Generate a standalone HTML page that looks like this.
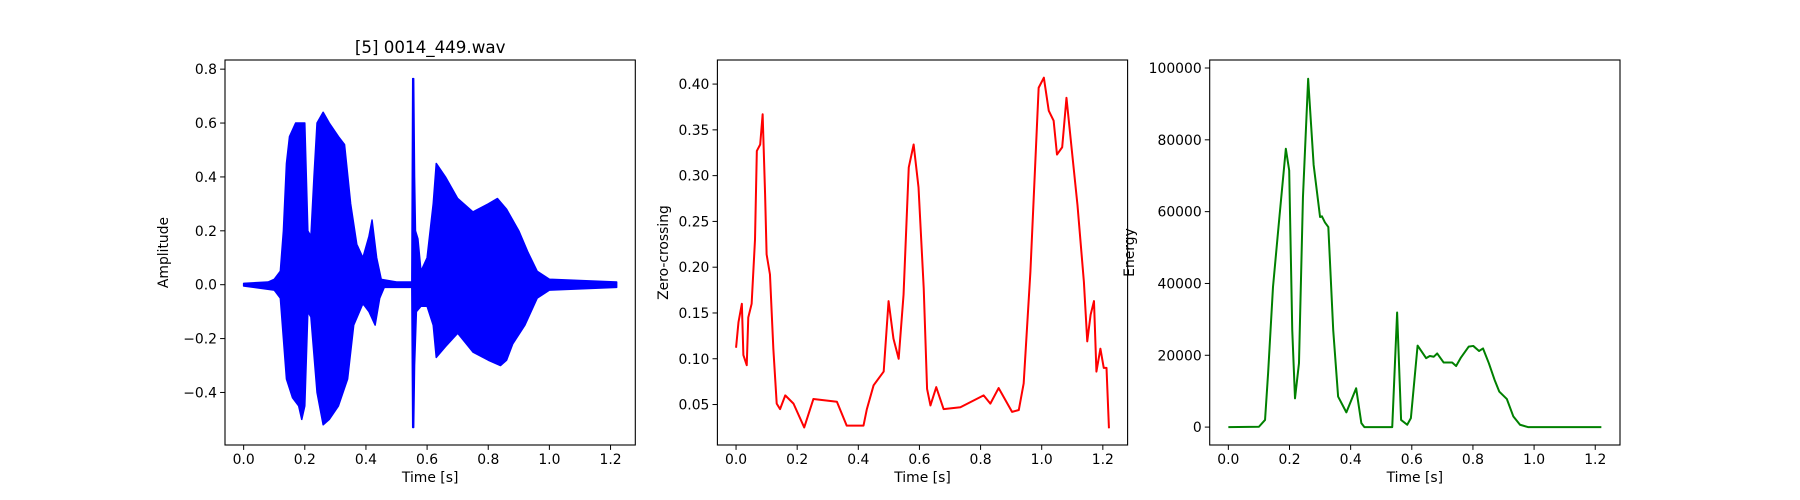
<!DOCTYPE html>
<html><head><meta charset="utf-8"><style>
html,body{margin:0;padding:0;background:#fff;}
svg{display:block;font-family:"DejaVu Sans","Liberation Sans",sans-serif;}
</style></head><body>
<svg id="fig" width="1800" height="500" viewBox="0 0 1800 500" xmlns="http://www.w3.org/2000/svg"></svg>
<script>
// Waveform envelope
const waveTimesUp = [0,0.08,0.1,0.12,0.13,0.14,0.15,0.17,0.2,0.21,0.22,0.23,0.24,0.26,0.28,0.31,0.33,0.35,0.37,0.39,0.41,0.42,0.435,0.45,0.5,0.55,0.553,0.556,0.559,0.562,0.57,0.58,0.6,0.62,0.63,0.66,0.7,0.75,0.8,0.83,0.86,0.9,0.93,0.96,1.0,1.22];
const waveUpper = [0.005,0.01,0.02,0.05,0.2,0.45,0.55,0.6,0.6,0.2,0.18,0.4,0.6,0.64,0.6,0.55,0.52,0.3,0.15,0.1,0.18,0.24,0.1,0.02,0.01,0.01,0.765,0.765,0.4,0.2,0.17,0.05,0.1,0.3,0.45,0.4,0.32,0.27,0.3,0.32,0.28,0.2,0.12,0.05,0.02,0.01];
const waveTimesLow = [0,0.1,0.12,0.13,0.14,0.16,0.18,0.19,0.2,0.21,0.22,0.24,0.26,0.28,0.31,0.34,0.36,0.39,0.41,0.43,0.445,0.46,0.55,0.553,0.556,0.559,0.565,0.58,0.6,0.62,0.63,0.66,0.7,0.75,0.8,0.84,0.86,0.88,0.92,0.96,1.0,1.22];
const waveLower = [-0.005,-0.02,-0.05,-0.2,-0.35,-0.42,-0.45,-0.5,-0.45,-0.1,-0.12,-0.4,-0.52,-0.5,-0.45,-0.35,-0.15,-0.07,-0.1,-0.15,-0.05,-0.01,-0.01,-0.53,-0.53,-0.3,-0.1,-0.08,-0.08,-0.15,-0.27,-0.23,-0.18,-0.25,-0.28,-0.3,-0.28,-0.22,-0.15,-0.05,-0.02,-0.01];
// Zero-crossing
const zcrTimes = [0,0.008,0.019,0.024,0.035,0.04,0.051,0.062,0.068,0.079,0.087,0.095,0.1,0.111,0.122,0.133,0.144,0.161,0.188,0.223,0.253,0.33,0.362,0.417,0.428,0.45,0.483,0.499,0.515,0.532,0.548,0.565,0.581,0.597,0.614,0.625,0.636,0.655,0.679,0.734,0.81,0.832,0.859,0.903,0.925,0.941,0.963,0.99,1.007,1.023,1.039,1.05,1.067,1.081,1.1,1.117,1.138,1.149,1.16,1.171,1.179,1.192,1.203,1.212,1.22];
const zcrValues = [0.112,0.14,0.16,0.104,0.093,0.145,0.16,0.23,0.327,0.334,0.367,0.28,0.214,0.192,0.111,0.051,0.045,0.06,0.051,0.025,0.056,0.053,0.027,0.027,0.045,0.071,0.086,0.163,0.122,0.1,0.17,0.309,0.334,0.287,0.177,0.067,0.049,0.069,0.045,0.047,0.06,0.051,0.068,0.042,0.044,0.073,0.195,0.396,0.407,0.371,0.36,0.323,0.331,0.385,0.323,0.268,0.184,0.119,0.148,0.163,0.086,0.111,0.09,0.09,0.024];
// Energy
const enTimes = [0,0.1,0.12,0.13,0.146,0.167,0.188,0.199,0.209,0.218,0.231,0.244,0.261,0.279,0.3,0.306,0.316,0.327,0.343,0.359,0.386,0.418,0.435,0.445,0.536,0.552,0.565,0.585,0.597,0.619,0.647,0.659,0.672,0.683,0.704,0.732,0.745,0.761,0.786,0.801,0.82,0.833,0.852,0.871,0.886,0.911,0.932,0.954,0.98,1.22];
const enValues = [0,100,2000,15000,39000,58500,77500,71500,27000,8000,17800,64000,97000,73000,58500,58700,57000,55700,27000,8500,4100,10800,1100,0,0,31900,2000,650,2500,22700,19200,19800,19600,20500,18000,18000,17000,19400,22400,22600,21200,21900,17800,13100,9900,7800,3000,650,0,0];
const xTicks = [0,0.2,0.4,0.6,0.8,1.0,1.2];
const xTickLabels = ["0.0","0.2","0.4","0.6","0.8","1.0","1.2"];
const y1Ticks = [-0.4,-0.2,0,0.2,0.4,0.6,0.8];
const y1Labels = ["\u22120.4","\u22120.2","0.0","0.2","0.4","0.6","0.8"];
const y2Ticks = [0.05,0.10,0.15,0.20,0.25,0.30,0.35,0.40];
const y2Labels = ["0.05","0.10","0.15","0.20","0.25","0.30","0.35","0.40"];
const y3Ticks = [0,20000,40000,60000,80000,100000];
const y3Labels = ["0","20000","40000","60000","80000","100000"];

const NS="http://www.w3.org/2000/svg";
const svg=document.getElementById('fig');
function mk(tag,attrs,parent){const e=document.createElementNS(NS,tag);for(const k in attrs)e.setAttribute(k,attrs[k]);(parent||svg).appendChild(e);return e;}
const T=60,B=445;
function axes(left,right,xmin,xmax,ymin,ymax,name){
  const g=mk('g',{});
  
  
  return {g,left,right,sx:v=>left+(v-xmin)/(xmax-xmin)*(right-left),sy:v=>B-(v-ymin)/(ymax-ymin)*(B-T)};
}
function drawFrame(ax,yt,yl,ylabel,ylabelX,title){
  const g=ax.g;
  xTicks.forEach((t,i)=>{const x=ax.sx(t);
    const l=mk('line',{x1:x,x2:x,y1:B,y2:B+4.9,stroke:'#000','stroke-width':1},g);
    
    
    const tx=mk('text',{x:x,y:B+19,'font-size':13.9,'text-anchor':'middle',fill:'#000'},g);tx.textContent=xTickLabels[i];
    
    });
  yt.forEach((t,i)=>{const y=ax.sy(t);
    const l=mk('line',{x1:ax.left-4.9,x2:ax.left,y1:y,y2:y,stroke:'#000','stroke-width':1},g);
    
    
    const tx=mk('text',{x:ax.left-8,y:y+5,'font-size':13.9,'text-anchor':'end',fill:'#000'},g);tx.textContent=yl[i];
    
    });
  const r=mk('rect',{x:ax.left,y:T,width:ax.right-ax.left,height:B-T,fill:'none',stroke:'#000','stroke-width':1.1},g);
  
  
  const xl=mk('text',{x:(ax.left+ax.right)/2,y:B+37,'font-size':13.9,'text-anchor':'middle'},g);xl.textContent='Time [s]';
  
  
  const yy=(T+B)/2;
  const ylab=mk('text',{x:ylabelX,y:yy,'font-size':13.9,'text-anchor':'middle',transform:`rotate(-90 ${ylabelX} ${yy})`},g);ylab.textContent=ylabel;
  
  
  if(title){const tt=mk('text',{x:(ax.left+ax.right)/2,y:T-7,'font-size':16.7,'text-anchor':'middle'},g);tt.textContent=title;
    
    }
}
function line(ax,xs,ys,color,name){
  const d=xs.map((t,i)=>(i?'L':'M')+ax.sx(t).toFixed(2)+','+ax.sy(ys[i]).toFixed(2)).join('');
  const p=mk('path',{d,fill:'none',stroke:color,'stroke-width':2,'stroke-linejoin':'round'},ax.g);
  
  
}
// Axes 1
const a1=axes(225,635.3,-0.061,1.281,-0.595,0.834,'waveform-plot');
let d='';
waveTimesUp.forEach((t,i)=>{d+=(i?'L':'M')+a1.sx(t).toFixed(2)+','+a1.sy(waveUpper[i]).toFixed(2);});
for(let i=waveTimesLow.length-1;i>=0;i--){d+='L'+a1.sx(waveTimesLow[i]).toFixed(2)+','+a1.sy(waveLower[i]).toFixed(2);}
d+='Z';
const wp=mk('path',{d,fill:'#0000ff',stroke:'#0000ff','stroke-width':1.5,'stroke-linejoin':'round'},a1.g);


drawFrame(a1,y1Ticks,y1Labels,'Amplitude',168,'[5] 0014_449.wav');
// Axes 2
const a2=axes(717.4,1127.6,-0.061,1.281,0.0058,0.4263,'zero-crossing-plot');
line(a2,zcrTimes,zcrValues,'#ff0000','zero-crossing-series');
drawFrame(a2,y2Ticks,y2Labels,'Zero-crossing',668,null);
// Axes 3
const a3=axes(1209.7,1620,-0.061,1.281,-4986,102230,'energy-plot');
line(a3,enTimes,enValues,'#008000','energy-series');
drawFrame(a3,y3Ticks,y3Labels,'Energy',1134,null);
</script>
</body></html>
